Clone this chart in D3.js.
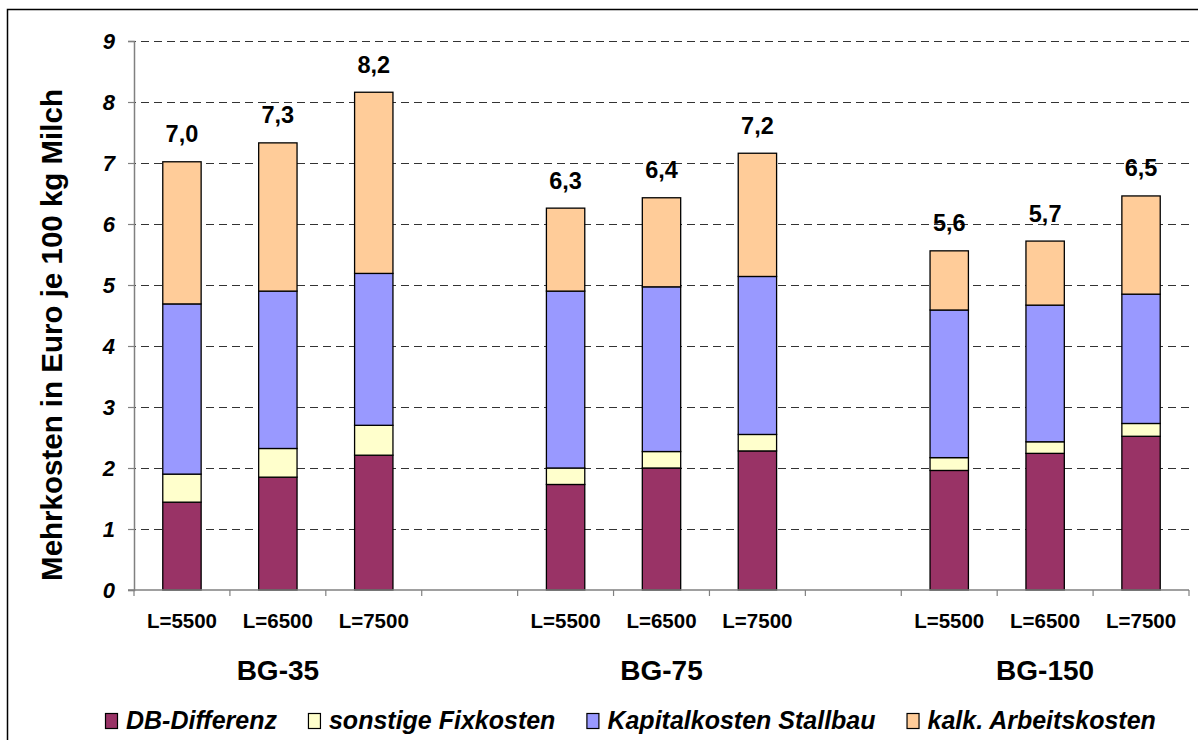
<!DOCTYPE html>
<html>
<head>
<meta charset="utf-8">
<script src="https://cdn.jsdelivr.net/npm/d3@7"></script>
<style>
  html, body { margin: 0; padding: 0; background: #fff; }
  svg { display: block; font-family: "Liberation Sans", Arial, sans-serif; }
  svg text { font-family: "Liberation Sans", Arial, sans-serif; }
</style>
</head>
<body>
<svg id="chart" width="1198" height="740"></svg>
<script>
// ---- data ----
const groups = ["BG-35", "BG-75", "BG-150"];
const levels = ["L=5500", "L=6500", "L=7500"];
const seriesNames = ["DB-Differenz", "sonstige Fixkosten", "Kapitalkosten Stallbau", "kalk. Arbeitskosten"];
const seriesColors = ["#993366", "#FFFFCC", "#9999FF", "#FFCC99"];
const dbDifferenz = [1.44, 1.85, 2.21, 1.73, 2.00, 2.28, 1.96, 2.24, 2.52];
const sonstigeFixkosten = [0.46, 0.47, 0.49, 0.27, 0.27, 0.27, 0.21, 0.19, 0.21];
const kapitalkostenStallbau = [2.79, 2.58, 2.49, 2.90, 2.70, 2.59, 2.42, 2.24, 2.12];
const kalkArbeitskosten = [2.33, 2.43, 2.97, 1.36, 1.46, 2.02, 0.97, 1.05, 1.61];
const totalLabels = ["7,0", "7,3", "8,2", "6,3", "6,4", "7,2", "5,6", "5,7", "6,5"];
const yTicks = [0, 1, 2, 3, 4, 5, 6, 7, 8, 9];

// ---- build slots (3 bars, gap, 3 bars, gap, 3 bars) ----
const slots = [];
groups.forEach((g, gi) => {
  levels.forEach((l, li) => slots.push({ id: g + "|" + l, group: g, level: l, idx: gi * 3 + li }));
  if (gi < groups.length - 1) slots.push({ id: "gap" + gi, group: null, level: "", idx: -1 });
});
const seriesValues = [dbDifferenz, sonstigeFixkosten, kapitalkostenStallbau, kalkArbeitskosten];
const rows = slots.filter(s => s.idx >= 0).map(s => {
  const r = { id: s.id };
  seriesNames.forEach((n, k) => r[n] = seriesValues[k][s.idx]);
  r.label = totalLabels[s.idx];
  r.total = d3.sum(seriesValues, v => v[s.idx]);
  return r;
});

const svg = d3.select("#chart");
const plot = { left: 134, right: 1189, top: 41, bottom: 590 };

// outer chart border
svg.append("rect").attr("x", 7.5).attr("y", 9.5).attr("width", 1200).attr("height", 740)
  .attr("fill", "#fff").attr("stroke", "#000").attr("stroke-width", 1.5);

const x = d3.scaleBand().domain(slots.map(s => s.id)).range([plot.left, plot.right]).padding(0);
const barW = x.bandwidth() * 0.4;
const y = d3.scaleLinear().domain([0, 9]).range([plot.bottom, plot.top]);

// gridlines
svg.append("g").selectAll("line").data(yTicks.filter(t => t > 0)).join("line")
  .attr("x1", plot.left - 6).attr("x2", plot.right)
  .attr("y1", d => Math.round(y(d)) + 0.5).attr("y2", d => Math.round(y(d)) + 0.5)
  .attr("stroke", "#333").attr("stroke-width", 1).attr("stroke-dasharray", "8,5");

// y axis
const yAxis = svg.append("g").attr("transform", `translate(${plot.left},0)`)
  .call(d3.axisLeft(y).tickValues(yTicks).tickSize(6).tickPadding(13).tickFormat(d3.format("d")));
yAxis.attr("font-family", null).attr("font-size", null);
yAxis.select(".domain").attr("stroke", "#808080").attr("stroke-width", 1.5);
yAxis.selectAll(".tick line").attr("stroke", "#808080").attr("stroke-width", 1.2);
yAxis.selectAll(".tick text")
  .style("font-size", "22px").style("font-weight", "bold").style("font-style", "italic")
  .attr("fill", "#000");

// stacked bars
const stack = d3.stack().keys(seriesNames)(rows);
svg.append("g").selectAll("g").data(stack).join("g")
  .attr("fill", (d, i) => seriesColors[i])
  .selectAll("rect").data(d => d).join("rect")
  .attr("x", d => x(d.data.id) + (x.bandwidth() - barW) / 2)
  .attr("width", barW)
  .attr("y", d => y(d[1]))
  .attr("height", d => y(d[0]) - y(d[1]))
  .attr("stroke", "#000").attr("stroke-width", 1.3);

// total labels
svg.append("g").selectAll("text").data(rows).join("text")
  .attr("x", d => x(d.id) + x.bandwidth() / 2)
  .attr("y", d => y(d.total) - 19.5)
  .attr("text-anchor", "middle")
  .style("font-size", "23.5px").style("font-weight", "bold")
  .text(d => d.label);

// x axis line and ticks at category boundaries
const xg = svg.append("g");
xg.append("line").attr("x1", plot.left - 6).attr("x2", plot.right)
  .attr("y1", plot.bottom).attr("y2", plot.bottom)
  .attr("stroke", "#808080").attr("stroke-width", 1.5);
const bounds = slots.map(s => x(s.id)).concat([plot.right]);
xg.selectAll("line.t").data(bounds).join("line").attr("class", "t")
  .attr("x1", d => d).attr("x2", d => d)
  .attr("y1", plot.bottom).attr("y2", plot.bottom + 6)
  .attr("stroke", "#808080").attr("stroke-width", 1.2);
xg.selectAll("text.lvl").data(slots.filter(s => s.idx >= 0)).join("text").attr("class", "lvl")
  .attr("x", d => x(d.id) + x.bandwidth() / 2).attr("y", 628)
  .attr("text-anchor", "middle")
  .style("font-size", "20.5px").style("font-weight", "bold")
  .text(d => d.level);
xg.selectAll("text.grp").data(groups).join("text").attr("class", "grp")
  .attr("x", g => {
    const ids = slots.filter(s => s.group === g).map(s => s.id);
    return (x(ids[0]) + x(ids[ids.length - 1]) + x.bandwidth()) / 2;
  })
  .attr("y", 680).attr("text-anchor", "middle")
  .style("font-size", "28px").style("font-weight", "bold")
  .text(g => g);

// y axis title
svg.append("text").attr("transform", "translate(62,335) rotate(-90)")
  .attr("text-anchor", "middle")
  .style("font-size", "29.5px").style("font-weight", "bold")
  .text("Mehrkosten in Euro je 100 kg Milch");

// legend
const lg = svg.append("g");
let lx = 105;
seriesNames.forEach((n, i) => {
  lg.append("rect").attr("x", lx + 0.5).attr("y", 713.5).attr("width", 12).attr("height", 15)
    .attr("fill", seriesColors[i]).attr("stroke", "#000").attr("stroke-width", 1.2);
  const t = lg.append("text").attr("x", lx + 21).attr("y", 728.5)
    .style("font-size", "25px").style("font-weight", "bold").style("font-style", "italic").text(n);
  lx += 21 + t.node().getComputedTextLength() + 31;
});
</script>
</body>
</html>
